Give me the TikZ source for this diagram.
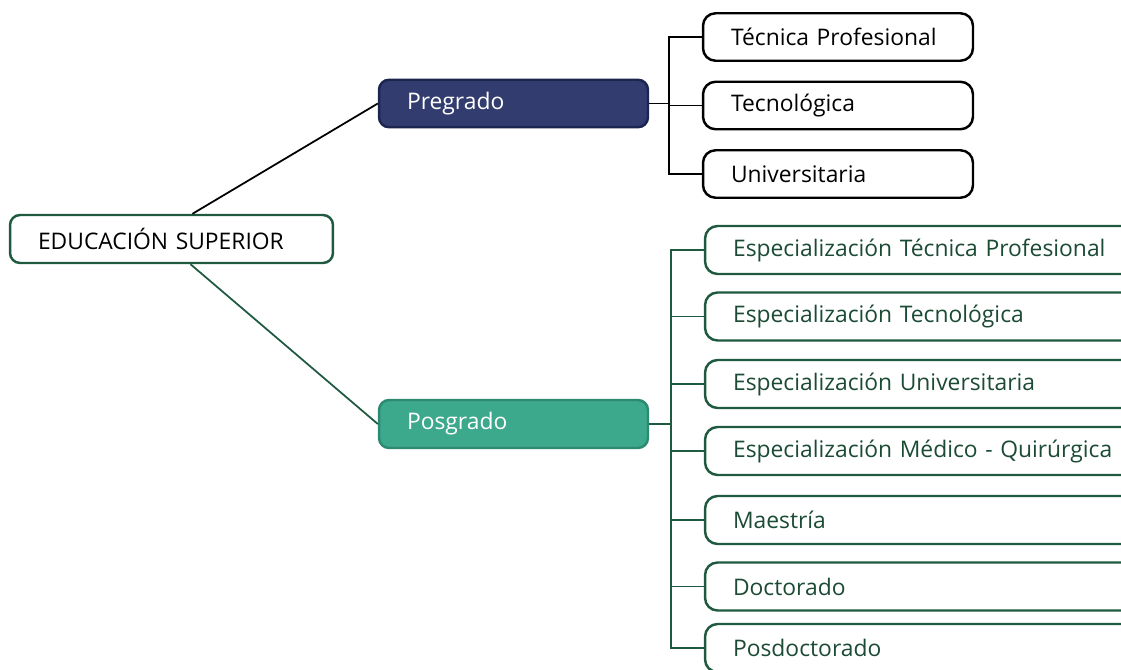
\documentclass[tikz,border=0pt]{standalone}
\usepackage{fontspec}
\setmainfont{Open Sans}
\definecolor{navy}{HTML}{323C6E}
\definecolor{navyline}{HTML}{1C2450}
\definecolor{teal}{HTML}{3CA88C}
\definecolor{tealline}{HTML}{2C8A70}
\definecolor{darkgreen}{HTML}{1F5A40}
\definecolor{greentext}{HTML}{1B4A35}
\begin{document}
\begin{tikzpicture}[x=0.02cm, y=-0.02cm, line width=1.4pt,
  box/.style={rectangle,rounded corners=0.2cm,draw,align=left,inner xsep=0.56cm,inner ysep=0pt,font=\fontsize{13}{15}\selectfont},
  root node/.style={box,draw=darkgreen,text width=5.34cm,minimum height=0.96cm},
  pre node/.style={box,draw=navyline,fill=navy,text=white,text width=4.26cm,minimum height=0.95cm},
  pos node/.style={box,draw=tealline,fill=teal,text=white,text width=4.26cm,minimum height=0.96cm},
  pre sub/.style={box,draw=black,rounded corners=0.25cm,text width=4.28cm,minimum height=0.95cm},
  pos sub/.style={box,draw=darkgreen,rounded corners=0.25cm,text=greentext,text width=7.6cm,minimum height=0.96cm}]
\clip (0,0) rectangle (1121,669);
\node [root node](edu) at (171.5,239) {EDUCACIÓN SUPERIOR};
\node [pre node](pre) at (513.5,103.5) {Pregrado};
\node [pos node](pos) at (513.5,424) {Posgrado};
% pregrado
\node [pre sub](tec) at (838,37) {Técnica Profesional};
\node [pre sub](tgc) at (838,105.5) {Tecnológica};
\node [pre sub](uni) at (838,174) {Universitaria};
% posgrado
\node [pos sub](etp) at (923,250) {Especialización Técnica Profesional};
\node [pos sub](etg) at (923,316.5) {Especialización Tecnológica};
\node [pos sub](eun) at (923,384) {Especialización Universitaria};
\node [pos sub](emq) at (923,451) {Especialización Médico - Quirúrgica};
\node [pos sub](mae) at (923,520) {Maestría};
\node [pos sub](doc) at (923,586.5) {Doctorado};
\node [pos sub](pdo) at (923,648) {Posdoctorado};
\path [line width=1pt]
	([xshift=0.42cm]edu.north) edge (pre.west)
	([xshift=0.38cm]edu.south) edge [darkgreen] (pos.west)
	;
\draw [line width=1.1pt] (pre.east) -- ++(20,0) coordinate (prebus);
\foreach \n in {tec,tgc,uni}
  \draw [line width=1.1pt] (prebus) |- (\n.west);
\draw [line width=1.1pt,darkgreen] (pos.east) -- ++(22,0) coordinate (posbus);
\foreach \n in {etp,etg,eun,emq,mae,doc,pdo}
  \draw [line width=1.1pt,darkgreen] (posbus) |- (\n.west);
\end{tikzpicture}
\end{document}
